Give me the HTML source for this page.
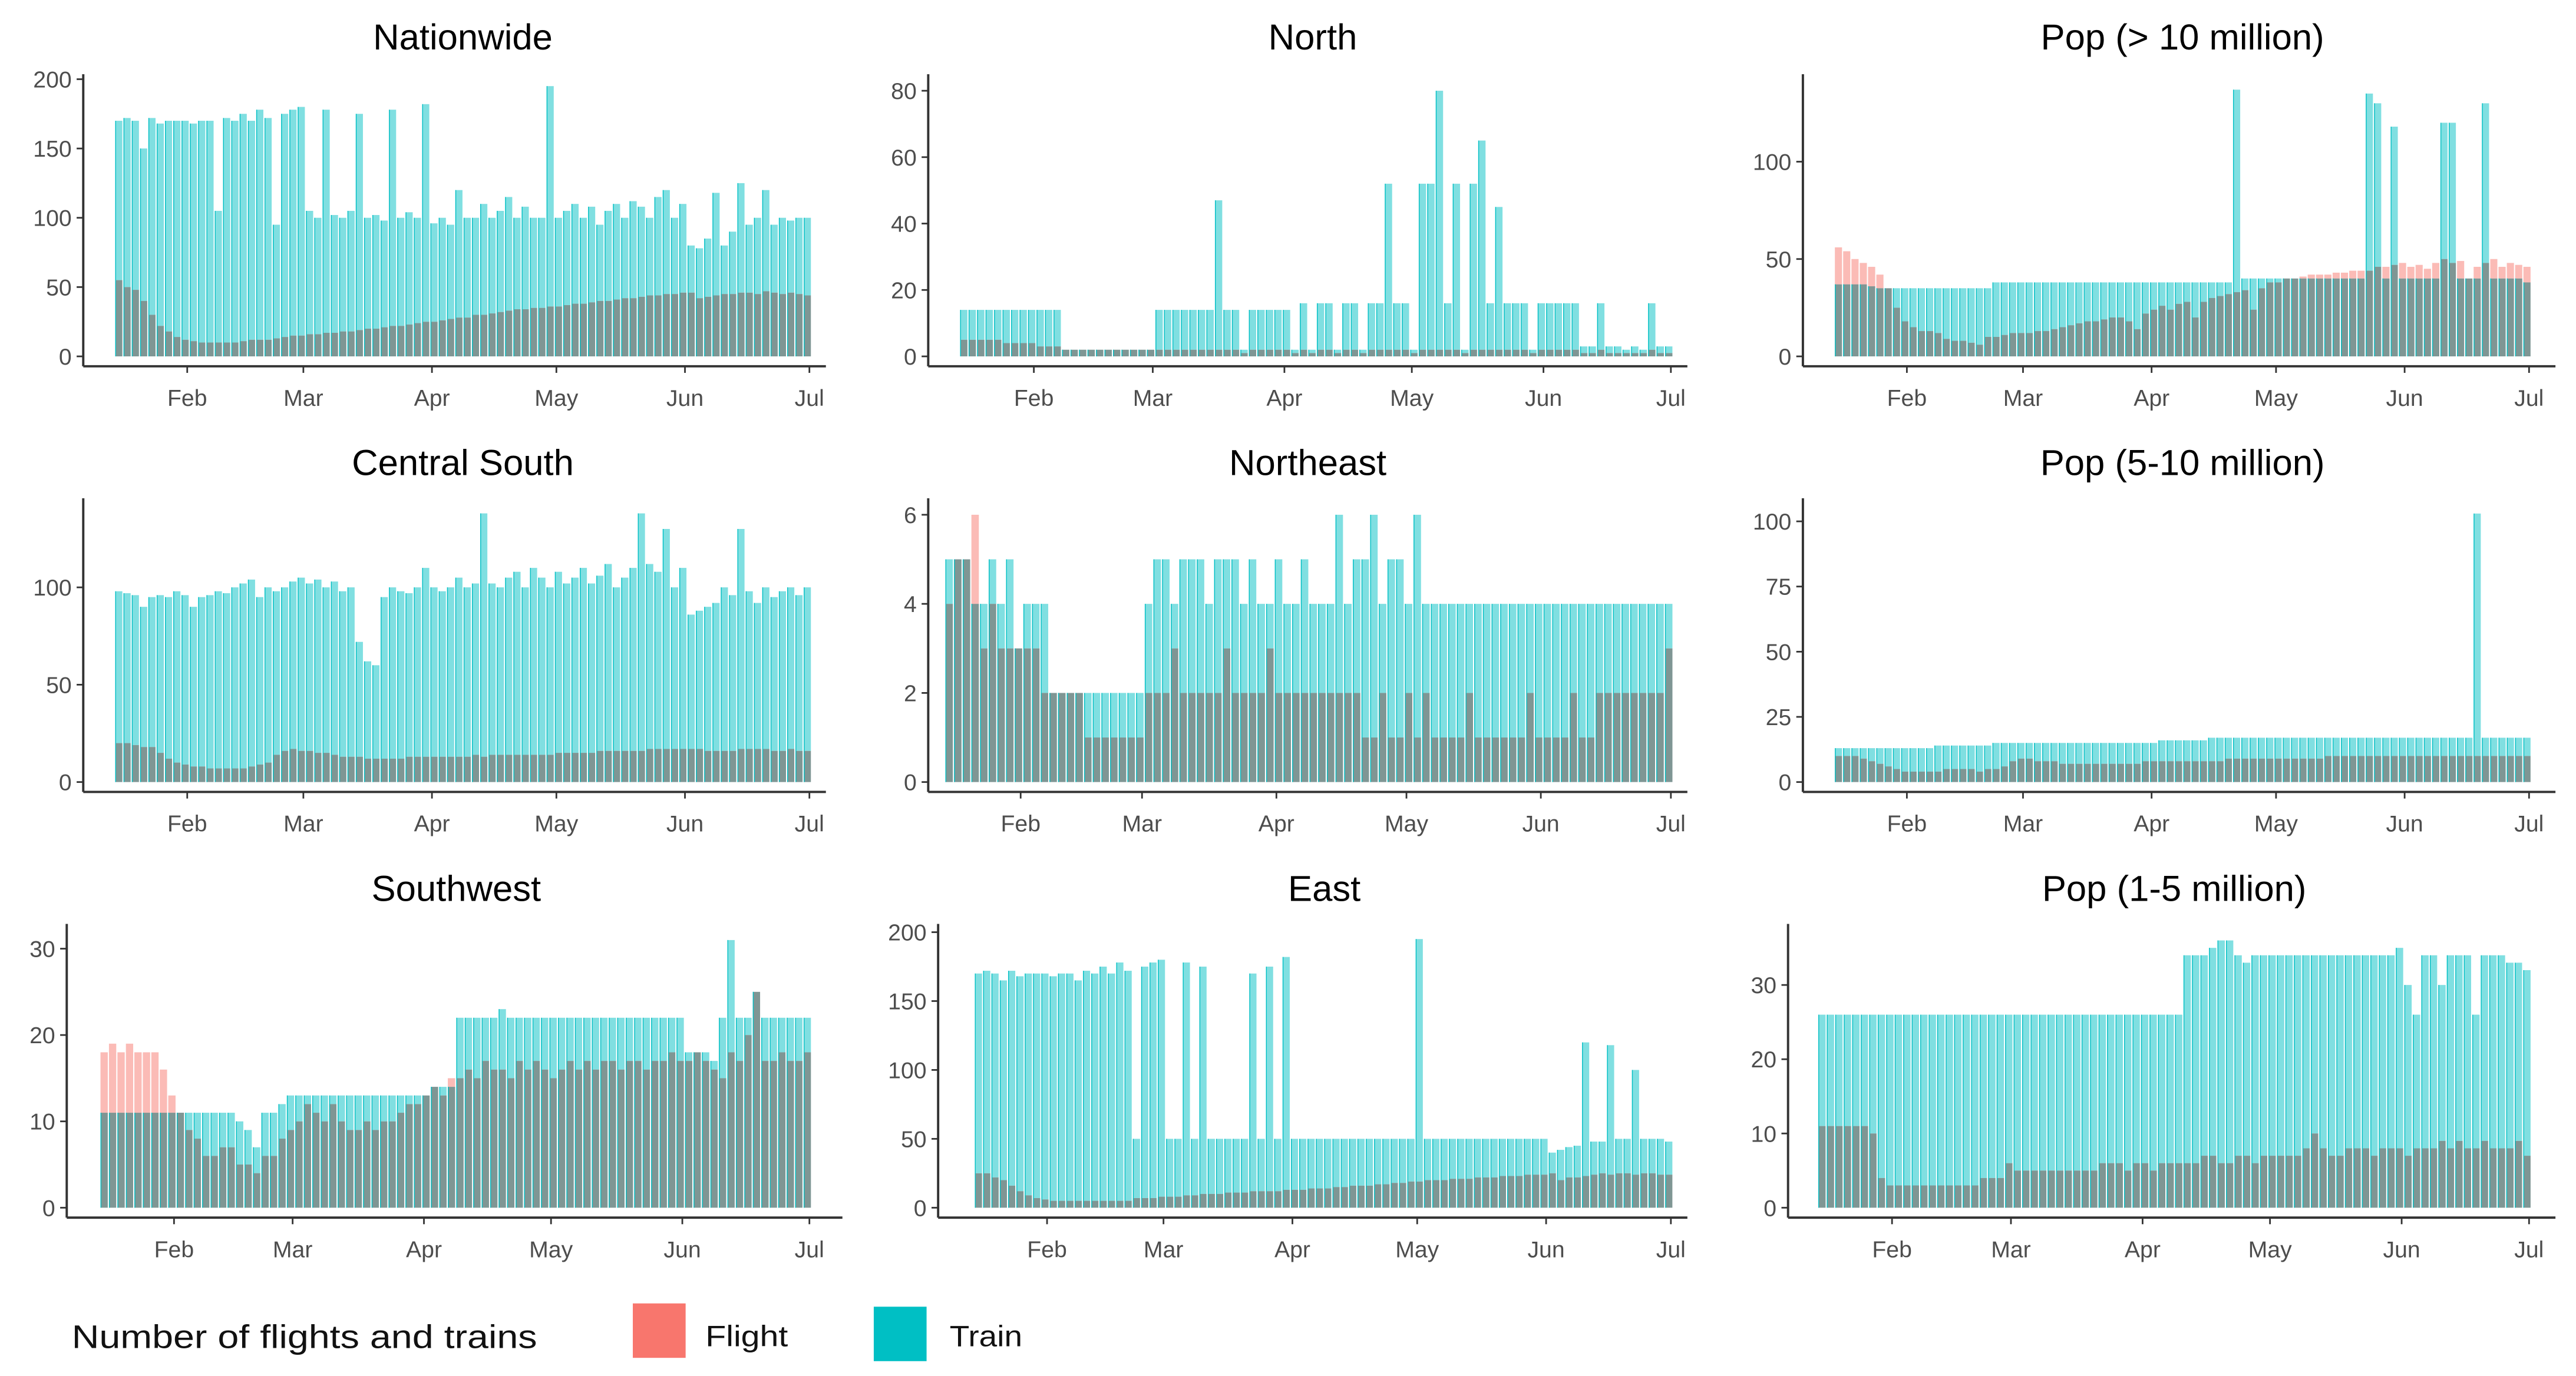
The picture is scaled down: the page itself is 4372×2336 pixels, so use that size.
<!DOCTYPE html>
<html><head><meta charset="utf-8"><style>
html,body{margin:0;padding:0;background:#fff}
svg{display:block}
text{font-family:"Liberation Sans",Arial,sans-serif}
</style></head><body>
<svg id="chart" xmlns="http://www.w3.org/2000/svg" width="4372" height="2336" viewBox="0 0 1560 834">
<rect x="0" y="0" width="1560" height="834" fill="#fff"/>
<g id="panels"></g>
<g>
<text x="43" y="817" font-size="20" fill="#111" textLength="282" lengthAdjust="spacingAndGlyphs">Number of flights and trains</text>
<rect x="383" y="790" width="32" height="33" fill="#f8766d"/>
<text x="427" y="816" font-size="18" fill="#111" textLength="50" lengthAdjust="spacingAndGlyphs">Flight</text>
<rect x="529" y="792" width="32" height="33" fill="#00bfc4"/>
<text x="575" y="816" font-size="18" fill="#111" textLength="44" lengthAdjust="spacingAndGlyphs">Train</text>
</g>
</svg>
<script>
// Bi-daily samples from Jan 15 (day-of-year 14) to Jun 30
const startDay = 14;
const stepDays = 2;
const monthLabels = ["Feb","Mar","Apr","May","Jun","Jul"];
const monthDays = [31,59,90,120,151,181];

const nationwideTrain = [170,172,170,150,172,168,170,170,170,168,170,170,105,172,170,175,170,178,172,95,175,178,180,
105,100,178,102,100,105,175,100,102,98,178,100,104,100,182,96,
100,95,120,100,100,110,100,105,115,100,108,100,100,195,100,105,
110,100,108,95,105,110,100,112,108,100,115,120,100,110,80,78,
85,118,80,90,125,95,100,120,95,100,98,100,100];
const nationwideFlight = [55,50,48,40,30,22,18,14,12,11,10,10,10,10,10,11,12,12,12,13,14,15,15,
16,16,17,17,18,18,19,20,20,21,22,22,23,24,25,25,
26,27,28,28,30,30,31,32,33,34,34,35,35,36,36,37,
38,38,39,40,40,41,42,42,43,44,44,45,45,46,46,42,
43,44,45,45,46,46,45,47,46,45,46,45,44];

const northTrain = [14,14,14,14,14,14,14,14,14,14,14,14,2,2,2,2,2,2,2,2,2,2,2,
14,14,14,14,14,14,14,47,14,14,2,14,14,14,14,14,
2,16,2,16,16,2,16,16,2,16,16,52,16,16,2,52,
52,80,16,52,2,52,65,16,45,16,16,16,2,16,16,16,
16,16,3,3,16,3,3,2,3,2,16,3,3];
const northFlight = [5,5,5,5,5,4,4,4,4,3,3,3,2,2,2,2,2,2,2,2,2,2,2,
2,2,2,2,2,2,2,2,2,2,1,2,2,2,2,2,
1,2,1,2,2,1,2,2,1,2,2,2,2,2,1,2,
2,2,2,2,1,2,2,2,2,2,2,2,1,2,2,2,
2,2,1,1,2,1,1,1,1,1,2,1,1];

const popLargeTrain = [37,37,37,37,36,35,35,35,35,35,35,35,35,35,35,35,35,35,35,38,38,38,38,
38,38,38,38,38,38,38,38,38,38,38,38,38,38,38,38,
38,38,38,38,38,38,38,38,38,137,40,40,40,40,40,40,
40,40,40,40,40,40,40,40,40,135,130,40,118,40,40,40,
40,40,120,120,40,40,40,130,40,40,40,40,38];
const popLargeFlight = [56,54,50,48,46,42,35,25,18,15,13,13,12,9,8,8,7,6,10,10,11,12,12,
12,13,13,14,15,16,17,18,18,19,20,20,18,14,22,24,
26,24,27,28,20,28,30,31,32,33,34,24,35,38,38,40,
40,41,42,42,42,43,43,44,44,44,46,46,47,48,46,47,
45,48,50,48,49,40,46,48,50,46,48,47,46];

const centralTrain = [98,97,96,90,95,96,95,98,96,90,95,96,98,97,100,102,104,95,100,98,100,103,105,
102,104,100,103,98,100,72,62,60,95,100,98,97,100,110,100,
98,100,105,100,102,138,102,100,105,108,100,110,105,100,108,102,
105,110,102,106,112,100,105,110,138,112,108,130,100,110,86,88,
90,92,100,96,130,98,92,100,95,98,100,96,100];
const centralFlight = [20,20,19,18,18,15,12,10,9,8,8,7,7,7,7,7,8,9,10,14,16,17,16,
16,15,15,14,13,13,13,12,12,12,12,12,13,13,13,13,
13,13,13,13,14,13,14,14,14,14,14,14,14,14,15,15,
15,15,15,16,16,16,16,16,16,17,17,17,17,17,17,17,
16,16,16,16,17,17,17,17,16,16,17,16,16];

const northeastTrain = [5,5,5,4,4,5,4,5,3,4,4,4,2,2,2,2,2,2,2,2,2,2,2,
4,5,5,4,5,5,5,4,5,5,5,4,5,4,4,5,
4,4,5,4,4,4,6,4,5,5,6,4,5,5,4,6,
4,4,4,4,4,4,4,4,4,4,4,4,4,4,4,4,
4,4,4,4,4,4,4,4,4,4,4,4,4];
const northeastFlight = [4,5,5,6,3,4,3,3,3,3,3,2,2,2,2,2,1,1,1,1,1,1,1,
2,2,2,3,2,2,2,2,2,3,2,2,2,2,3,2,
2,2,2,2,2,2,2,2,2,1,1,2,1,1,2,1,
2,1,1,1,1,2,1,1,1,1,1,1,2,1,1,1,
1,2,1,1,2,2,2,2,2,2,2,2,3];

const popMidTrain = [13,13,13,13,13,13,13,13,13,13,13,13,14,14,14,14,14,14,14,15,15,15,15,
15,15,15,15,15,15,15,15,15,15,15,15,15,15,15,15,
16,16,16,16,16,16,17,17,17,17,17,17,17,17,17,17,
17,17,17,17,17,17,17,17,17,17,17,17,17,17,17,17,
17,17,17,17,17,17,103,17,17,17,17,17,17];
const popMidFlight = [10,10,10,9,8,7,6,5,4,4,4,4,4,5,5,5,5,4,5,5,6,8,9,
9,8,8,8,7,7,7,7,7,7,7,7,7,7,8,8,
8,8,8,8,8,8,8,8,9,9,9,9,9,9,9,9,
9,9,9,9,10,10,10,10,10,10,10,10,10,10,10,10,
10,10,10,10,10,10,10,10,10,10,10,10,10];

const southwestTrain = [11,11,11,11,11,11,11,11,11,11,11,11,11,11,11,11,10,9,7,11,11,12,13,
13,13,13,13,13,13,13,13,13,13,13,13,13,13,13,13,
14,14,14,22,22,22,22,22,23,22,22,22,22,22,22,22,
22,22,22,22,22,22,22,22,22,22,22,22,22,22,18,18,
18,17,22,31,22,22,25,22,22,22,22,22,22];
const southwestFlight = [18,19,18,19,18,18,18,16,13,11,9,8,6,6,7,7,5,5,4,6,6,8,9,
10,12,11,10,12,10,9,9,10,9,10,10,11,12,12,13,
14,13,15,15,16,15,17,16,16,15,17,16,17,16,15,16,
17,16,17,16,17,17,16,17,17,16,17,17,18,17,17,18,
17,16,15,18,17,20,25,17,17,18,17,17,18];

const eastTrain = [170,172,170,165,172,168,170,170,170,168,170,170,165,172,170,175,170,178,172,50,175,178,180,
50,50,178,50,175,50,50,50,50,50,170,50,175,50,182,50,
50,50,50,50,50,50,50,50,50,50,50,50,50,50,195,50,
50,50,50,50,50,50,50,50,50,50,50,50,50,50,40,42,
44,45,120,48,48,118,50,50,100,50,50,50,48];
const eastFlight = [25,25,22,20,16,12,9,7,6,5,5,5,5,5,5,5,5,5,5,7,7,7,8,
8,8,9,9,10,10,10,11,11,11,12,12,12,12,13,13,
13,14,14,14,15,15,16,16,16,17,17,18,18,19,19,20,
20,20,21,21,21,22,22,22,23,23,23,24,24,24,25,20,
22,22,23,24,25,24,25,25,24,25,25,24,24];

const popSmallTrain = [26,26,26,26,26,26,26,26,26,26,26,26,26,26,26,26,26,26,26,26,26,26,26,
26,26,26,26,26,26,26,26,26,26,26,26,26,26,26,26,
26,26,26,26,34,34,34,35,36,36,34,33,34,34,34,34,
34,34,34,34,34,34,34,34,34,34,34,34,34,35,30,26,
34,34,30,34,34,34,26,34,34,34,33,33,32];
const popSmallFlight = [11,11,11,11,11,11,10,4,3,3,3,3,3,3,3,3,3,3,3,4,4,4,6,
5,5,5,5,5,5,5,5,5,5,6,6,6,5,6,6,
5,6,6,6,6,6,7,7,6,6,7,7,6,7,7,7,
7,7,8,10,8,7,7,8,8,8,7,8,8,8,7,8,
8,8,9,8,9,8,8,9,8,8,8,9,7];

const panelTitles = ["Nationwide","North","Pop (> 10 million)","Central South","Northeast","Pop (5-10 million)","Southwest","East","Pop (1-5 million)"];
const trainSeries = [nationwideTrain,northTrain,popLargeTrain,centralTrain,northeastTrain,popMidTrain,southwestTrain,eastTrain,popSmallTrain];
const flightSeries = [nationwideFlight,northFlight,popLargeFlight,centralFlight,northeastFlight,popMidFlight,southwestFlight,eastFlight,popSmallFlight];
const yTickValues = [[0,50,100,150,200],[0,20,40,60,80],[0,50,100],[0,50,100],[0,2,4,6],[0,25,50,75,100],[0,10,20,30],[0,50,100,150,200],[0,10,20,30]];

// layout geometry (display coords)
const geom = [
 {ax:50,end:500,top:45,axY:222,zY:216,refV:200,refY:48,feb:113,jul:490,tx:280,ty:22},
 {ax:562,end:1022,top:45,axY:222,zY:216,refV:80,refY:55,feb:626,jul:1012,tx:795,ty:22},
 {ax:1092,end:1548,top:45,axY:222,zY:216,refV:100,refY:98,feb:1155,jul:1532,tx:1322,ty:22},
 {ax:50,end:500,top:302,axY:480,zY:474,refV:100,refY:356,feb:113,jul:490,tx:280,ty:280},
 {ax:562,end:1022,top:302,axY:480,zY:474,refV:6,refY:312,feb:618,jul:1012,tx:792,ty:280},
 {ax:1092,end:1548,top:302,axY:480,zY:474,refV:100,refY:316,feb:1155,jul:1532,tx:1322,ty:280},
 {ax:40,end:510,top:560,axY:738,zY:732,refV:30,refY:575,feb:105,jul:490,tx:276,ty:538},
 {ax:568,end:1022,top:560,axY:738,zY:732,refV:200,refY:565,feb:634,jul:1012,tx:802,ty:538},
 {ax:1083,end:1548,top:560,axY:738,zY:732,refV:30,refY:597,feb:1146,jul:1532,tx:1317,ty:538}
];

const NS='http://www.w3.org/2000/svg';
const root=document.getElementById('panels');
function mk(tag,attrs,parent){const e=document.createElementNS(NS,tag);for(const k in attrs)e.setAttribute(k,attrs[k]);parent.appendChild(e);return e;}

geom.forEach((g,p)=>{
  const grp=mk('g',{},root);
  
  
  const ppd=(g.jul-g.feb)/(monthDays[5]-monthDays[0]);
  const xs=d=>g.feb+(d-monthDays[0])*ppd;
  const ys=v=>g.zY-(v/g.refV)*(g.zY-g.refY);
  const bw=stepDays*ppd*0.86;
  const tr=trainSeries[p], fl=flightSeries[p];
  const n=Math.max(tr.length,fl.length);
  for(let i=0;i<n;i++){
    const d=startDay+i*stepDays+0.5;
    const x=xs(d)-bw/2;
    const t=tr[i]||0, f=fl[i]||0;
    const lo=Math.min(t,f), hi=Math.max(t,f);
    if(hi>lo){
      const r=mk('rect',{x:x,y:ys(hi),width:bw,height:ys(lo)-ys(hi),fill:t>f?'#80dfe1':'#fbbbb6'},grp);
      
      
    }
    if(lo>0){
      const r=mk('rect',{x:x,y:ys(lo),width:bw,height:ys(0)-ys(lo),fill:'#7f9694'},grp);
      
      
    }
    const s=mk('rect',{x:x,y:ys(t),width:0.5,height:ys(0)-ys(t),fill:'#00bfc4'},grp);
    
    
  }
  // axes
  const ya=mk('line',{x1:g.ax,y1:g.top,x2:g.ax,y2:g.axY,stroke:'#333',"stroke-width":1.4},grp);
  
  
  const xa=mk('line',{x1:g.ax,y1:g.axY,x2:g.end,y2:g.axY,stroke:'#333',"stroke-width":1.4},grp);
  
  
  yTickValues[p].forEach(v=>{
    const y=ys(v);
    const tk=mk('line',{x1:g.ax-4,y1:y,x2:g.ax,y2:y,stroke:'#333',"stroke-width":1},grp);
    
    
    const tl=mk('text',{x:g.ax-7,y:y+5,"font-size":14,fill:'#4d4d4d',"text-anchor":'end'},grp);
    tl.textContent=String(v);
    
    
  });
  monthDays.forEach((d,i)=>{
    const x=xs(d);
    const tk=mk('line',{x1:x,y1:g.axY,x2:x,y2:g.axY+4,stroke:'#333',"stroke-width":1},grp);
    
    
    const tl=mk('text',{x:x,y:g.axY+24,"font-size":14,fill:'#4d4d4d',"text-anchor":'middle'},grp);
    tl.textContent=monthLabels[i];
    
    
  });
  const tt=mk('text',{x:g.tx,y:g.ty+8,"font-size":22,fill:'#000',"text-anchor":'middle'},grp);
  tt.textContent=panelTitles[p];
  
  
});
</script>
</body></html>
